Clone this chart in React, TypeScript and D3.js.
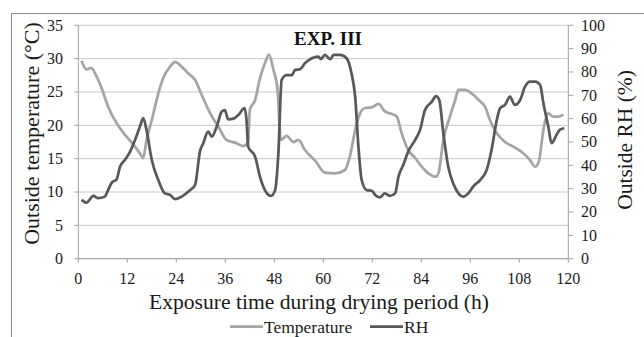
import React from "react";
import * as d3 from "d3";

const title = "EXP. III";
const xTicks = [0, 12, 24, 36, 48, 60, 72, 84, 96, 108, 120];
const leftTicks = [0, 5, 10, 15, 20, 25, 30, 35];
const rightTicks = [0, 10, 20, 30, 40, 50, 60, 70, 80, 90, 100];

const tempHours = [0.8, 2.0, 3.1, 4.5, 5.7, 7.3, 9.4, 11.4, 13.5, 15.1, 15.9, 16.7, 18.0, 19.6, 20.8, 22.5, 23.7, 25.3, 26.9, 28.6, 30.4, 32.3, 34.3, 36.3, 38.4, 40.4, 41.6, 42.0, 43.3, 44.5, 45.7, 46.7, 47.8, 48.8, 49.6, 51.0, 52.7, 53.9, 55.5, 58.0, 60.4, 62.9, 65.3, 66.5, 67.8, 69.0, 70.2, 71.9, 73.5, 75.1, 77.2, 78.0, 79.2, 80.8, 82.5, 84.1, 85.7, 87.6, 88.2, 89.4, 91.0, 92.3, 93.1, 94.7, 96.3, 98.4, 99.6, 100.8, 102.5, 104.5, 106.5, 108.6, 110.6, 111.9, 112.8, 113.9, 115.1, 116.3, 117.6, 118.8];
const tempValues = [29.7, 28.4, 28.6, 27.3, 25.6, 22.8, 20.3, 18.6, 17.1, 15.8, 15.1, 17.8, 20.8, 24.8, 27.1, 28.8, 29.5, 28.8, 27.8, 26.8, 24.3, 21.8, 19.8, 17.8, 17.4, 16.9, 17.5, 22.3, 23.8, 27.1, 29.3, 30.6, 28.3, 25.3, 17.8, 18.4, 17.5, 17.8, 16.3, 14.7, 12.9, 12.8, 13.3, 15.3, 19.3, 21.8, 22.6, 22.7, 23.2, 22.1, 21.6, 21.3, 18.8, 16.3, 15.1, 13.8, 12.8, 12.3, 12.8, 17.8, 21.3, 23.8, 25.3, 25.3, 24.8, 23.6, 22.8, 20.8, 18.8, 17.5, 16.8, 16.0, 14.8, 13.8, 14.6, 19.3, 21.8, 21.3, 21.3, 21.6];

const rhHours = [0.8, 2.0, 3.7, 4.9, 6.5, 7.3, 8.2, 9.4, 10.2, 11.4, 12.7, 13.9, 15.1, 15.9, 16.7, 18.0, 19.6, 21.2, 22.5, 23.7, 25.3, 27.4, 28.6, 29.8, 30.6, 31.8, 32.7, 33.9, 35.1, 35.9, 36.7, 38.0, 39.2, 40.7, 41.2, 41.6, 43.3, 44.5, 45.7, 47.2, 48.2, 49.0, 49.8, 51.0, 52.3, 53.1, 54.3, 55.5, 57.2, 58.8, 59.4, 60.4, 61.7, 62.5, 64.1, 65.7, 66.9, 67.8, 68.6, 69.4, 70.6, 71.9, 72.7, 73.9, 75.1, 76.3, 77.6, 78.4, 79.6, 80.8, 82.5, 83.7, 84.9, 86.6, 87.6, 88.4, 89.4, 90.6, 91.8, 93.1, 94.3, 95.5, 96.7, 98.4, 100.0, 101.2, 102.5, 103.3, 104.5, 105.7, 106.9, 108.2, 109.4, 110.6, 111.9, 113.1, 113.9, 115.1, 115.9, 117.1, 117.9, 119.0];
const rhValues = [25.2, 24.0, 26.9, 25.9, 26.6, 29.4, 32.6, 34.0, 39.4, 42.3, 45.9, 50.9, 56.6, 60.2, 55.2, 42.3, 33.7, 28.0, 27.3, 25.5, 26.6, 29.4, 31.6, 46.0, 49.5, 54.4, 52.3, 56.6, 63.0, 63.7, 59.7, 60.0, 61.6, 64.5, 59.4, 48.0, 43.7, 35.1, 29.4, 26.9, 29.4, 45.2, 76.6, 78.7, 78.7, 80.9, 81.2, 83.7, 85.9, 86.6, 85.5, 87.3, 85.5, 87.3, 87.3, 85.9, 79.5, 69.4, 48.0, 33.7, 29.4, 29.1, 27.3, 26.3, 28.0, 26.9, 28.0, 35.1, 40.2, 45.9, 50.9, 55.2, 63.7, 67.3, 69.7, 68.0, 53.7, 39.4, 32.3, 28.0, 26.6, 28.0, 30.9, 33.7, 38.0, 46.6, 59.5, 64.5, 65.9, 69.4, 65.9, 68.0, 73.7, 75.9, 75.9, 74.4, 66.6, 56.6, 49.5, 53.0, 55.2, 55.9];

const legendItems = ["Temperature", "RH"];

const FONT = "Liberation Serif, DejaVu Serif, serif";
const TEMP_COLOR = "#a5a5a5";
const RH_COLOR = "#595959";

const txt = { fontFamily: FONT };

export default function App() {
  const left = 78.3, right = 568.3, top = 25.3, bottom = 258.7;
  const x = d3.scaleLinear().domain([0, 120]).range([left, right]);
  const yL = d3.scaleLinear().domain([0, 35]).range([bottom, top]);
  const yR = d3.scaleLinear().domain([0, 100]).range([bottom, top]);

  const tempLine = d3
    .line<number>()
    .x((_, i) => x(tempHours[i]))
    .y((d) => yL(d))
    .curve(d3.curveMonotoneX);
  const rhLine = d3
    .line<number>()
    .x((_, i) => x(rhHours[i]))
    .y((d) => yR(d))
    .curve(d3.curveMonotoneX);

  return (
    <svg
      width={644}
      height={337}
      style={{ position: "absolute", left: 0, top: 0, background: "#fff", fontFamily: FONT }}
    >
      <rect x={0} y={0} width={644} height={337} fill="#fff" />
      {/* outer frame */}
      <line x1={11} y1={13.5} x2={644} y2={13.5} stroke="#8c8c8c" strokeWidth={1} />
      <line x1={11.5} y1={13} x2={11.5} y2={337} stroke="#8c8c8c" strokeWidth={1} />

      {/* gridlines */}
      {leftTicks.map((t) => (
        <line key={"g" + t} x1={left} x2={right} y1={yL(t)} y2={yL(t)} stroke="#c6c6c6" strokeWidth={1} />
      ))}

      {/* axes */}
      <line x1={left} x2={left} y1={top} y2={bottom} stroke="#a0a0a0" strokeWidth={1} />
      <line x1={right} x2={right} y1={top} y2={bottom} stroke="#a0a0a0" strokeWidth={1} />
      <line x1={left} x2={right} y1={bottom} y2={bottom} stroke="#a0a0a0" strokeWidth={1} />

      {leftTicks.map((t) => (
        <g key={"l" + t}>
          <line x1={left - 4} x2={left} y1={yL(t)} y2={yL(t)} stroke="#a0a0a0" />
          <text style={txt} x={63} y={yL(t)} dy="0.33em" textAnchor="end" fontSize={16} fill="#1a1a1a">
            {t}
          </text>
        </g>
      ))}
      {rightTicks.map((t) => (
        <g key={"r" + t}>
          <line x1={right} x2={right + 5} y1={yR(t)} y2={yR(t)} stroke="#a0a0a0" />
          <text style={txt} x={581} y={yR(t)} dy="0.33em" textAnchor="start" fontSize={16} fill="#1a1a1a">
            {t}
          </text>
        </g>
      ))}
      {xTicks.map((t) => (
        <g key={"x" + t}>
          <line x1={x(t)} x2={x(t)} y1={bottom} y2={bottom + 4} stroke="#a0a0a0" />
          <text style={txt} x={x(t)} y={284} textAnchor="middle" fontSize={16} fill="#1a1a1a">
            {t}
          </text>
        </g>
      ))}

      {/* series */}
      <path d={tempLine(tempValues) || ""} fill="none" stroke={TEMP_COLOR} strokeWidth={2.75} strokeLinejoin="round" />
      <path d={rhLine(rhValues) || ""} fill="none" stroke={RH_COLOR} strokeWidth={2.75} strokeLinejoin="round" />

      {/* title */}
      <text style={txt} x={328} y={45} textAnchor="middle" fontSize={19} fontWeight="bold" fill="#111">
        {title}
      </text>

      {/* axis titles */}
      <text style={txt} x={319} y={309} textAnchor="middle" fontSize={21.6} fill="#1a1a1a">
        Exposure time during drying period (h)
      </text>
      <text style={txt} transform="translate(38.5,133.5) rotate(-90)" textAnchor="middle" fontSize={22} fill="#1a1a1a">
        Outside temperature (°C)
      </text>
      <text style={txt} transform="translate(632,140) rotate(-90)" textAnchor="middle" fontSize={21.5} fill="#1a1a1a">
        Outside RH (%)
      </text>

      {/* legend */}
      <line x1={230} x2={263} y1={326.5} y2={326.5} stroke={TEMP_COLOR} strokeWidth={2.75} />
      <text style={txt} x={264} y={333} fontSize={17.5} fill="#1a1a1a">
        {legendItems[0]}
      </text>
      <line x1={370} x2={403} y1={326.5} y2={326.5} stroke={RH_COLOR} strokeWidth={2.75} />
      <text style={txt} x={404} y={333} fontSize={17.5} fill="#1a1a1a">
        {legendItems[1]}
      </text>
    </svg>
  );
}
